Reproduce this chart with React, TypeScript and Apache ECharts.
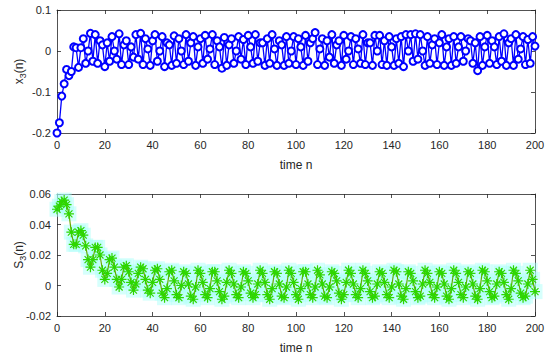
import React, { useEffect, useRef } from "react";
import * as echarts from "echarts";

// time index n = 0..200
const timeN: number[] = Array.from({ length: 201 }, (_, i) => i);

// x3(n) values
const x3Values: number[] = [
  -0.2, -0.175, -0.11, -0.08, -0.045, -0.06, -0.05, 0.01, 0.008, -0.04,
  0.008, 0.03, -0.03, 0.0, 0.043, -0.025, 0.04, -0.03, 0.025, 0.015,
  -0.038, 0.02, -0.025, 0.035, 0.0, -0.02, 0.042, -0.033, 0.015, 0.025,
  -0.033, 0.01, -0.015, 0.04, -0.02, 0.043, -0.033, 0.03, 0.005, -0.035,
  0.025, 0.04, -0.025, 0.0, 0.035, -0.038, 0.02, 0.015, -0.035, 0.037,
  -0.03, 0.03, 0.0, -0.033, 0.04, -0.025, 0.02, 0.035, -0.035, 0.01,
  0.03, -0.03, 0.038, -0.02, 0.005, 0.04, -0.033, 0.025, 0.01, -0.042,
  0.033, -0.035, 0.015, 0.03, -0.03, 0.0, 0.035, -0.02, 0.028, -0.033,
  0.038, 0.01, -0.03, 0.04, -0.025, 0.02, 0.02, -0.035, 0.03, -0.03,
  0.04, 0.005, -0.035, 0.025, 0.015, -0.035, 0.035, -0.03, 0.0, 0.035,
  -0.033, 0.03, 0.01, -0.035, 0.038, -0.025, 0.02, 0.03, 0.045, -0.033,
  0.005, 0.03, -0.035, 0.025, -0.015, 0.04, -0.03, 0.015, 0.025, -0.035,
  0.038, -0.02, 0.0, 0.035, -0.033, 0.03, 0.005, -0.03, 0.04, -0.033,
  0.02, 0.02, -0.035, 0.038, 0.0, 0.038, -0.033, 0.025, -0.035, 0.035,
  0.01, -0.035, 0.03, -0.03, 0.035, -0.038, 0.04, 0.0, 0.04, -0.025,
  0.042, -0.02, 0.04, 0.0, -0.035, 0.035, -0.03, 0.015, 0.03, -0.033,
  0.02, 0.04, -0.035, 0.01, 0.03, -0.035, 0.035, -0.03, 0.01, 0.035,
  -0.025, 0.0, 0.03, 0.025, -0.03, 0.02, -0.048, 0.035, -0.035, 0.01,
  0.038, -0.03, 0.025, 0.01, -0.033, 0.035, -0.025, 0.042, -0.035, 0.02,
  0.03, -0.035, 0.04, -0.02, 0.005, 0.035, -0.033, 0.028, -0.03, 0.035,
  0.012,
];

// S3(n) values
const s3Values: number[] = [
  0.05, 0.052, 0.055, 0.056, 0.053, 0.047, 0.035, 0.027, 0.027, 0.035,
  0.036, 0.033, 0.026, 0.017, 0.012, 0.017, 0.025, 0.025, 0.02, 0.01,
  0.004, 0.008, 0.017, 0.018, 0.012, 0.004, -0.001, 0.004, 0.012, 0.013,
  0.009, 0.002, -0.003, 0.001, 0.008, 0.012, 0.011, 0.004, -0.003, -0.005,
  0.002, 0.01, 0.011, 0.004, -0.005, -0.008, -0.002, 0.009, 0.01, 0.003,
  -0.006, -0.008, 0.0, 0.009, 0.008, 0.001, -0.007, -0.009, -0.001, 0.01,
  0.008, 0.002, -0.006, -0.008, -0.002, 0.009, 0.009, 0.003, -0.004, -0.009,
  -0.007, 0.002, 0.01, 0.008, 0.001, -0.006, -0.008, -0.001, 0.009, 0.008,
  0.003, -0.005, -0.008, -0.006, 0.001, 0.01, 0.008, 0.002, -0.006, -0.009,
  -0.002, 0.009, 0.008, 0.001, -0.007, -0.008, -0.001, 0.01, 0.008, 0.002,
  -0.006, -0.009, -0.002, 0.009, 0.009, 0.001, -0.006, -0.008, -0.001, 0.01,
  0.007, 0.001, -0.007, -0.008, -0.001, 0.009, 0.008, 0.003, -0.005, -0.009,
  -0.006, 0.002, 0.01, 0.008, 0.001, -0.006, -0.008, -0.002, 0.01, 0.008,
  0.003, -0.004, -0.008, -0.007, 0.001, 0.009, 0.008, 0.002, -0.006, -0.008,
  -0.001, 0.01, 0.009, 0.001, -0.007, -0.009, -0.002, 0.009, 0.008, 0.003,
  -0.004, -0.008, -0.007, 0.001, 0.01, 0.008, 0.002, -0.006, -0.008, -0.001,
  0.009, 0.008, 0.001, -0.007, -0.009, -0.002, 0.01, 0.008, 0.002, -0.006,
  -0.008, -0.001, 0.009, 0.008, 0.001, -0.007, -0.009, -0.002, 0.01, 0.009,
  0.003, -0.004, -0.008, -0.007, 0.001, 0.009, 0.008, 0.002, -0.006, -0.009,
  -0.002, 0.01, 0.008, 0.003, -0.005, -0.008, -0.007, 0.001, 0.01, 0.004,
  -0.004,
];

const xTicks = { min: 0, max: 200, interval: 20 };
const topY = { min: -0.2, max: 0.1, interval: 0.1 };
const botY = { min: -0.02, max: 0.06, interval: 0.02 };

const AX = "#262626";
const FONT = "Liberation Sans, Arial, sans-serif";
const ASTERISK =
  "path://M0,-5L0,5M-5,0L5,0M-3.5,-3.5L3.5,3.5M-3.5,3.5L3.5,-3.5";

export default function App() {
  const ref = useRef<HTMLDivElement>(null);
  useEffect(() => {
    if (!ref.current) return;
    const chart = echarts.init(ref.current, undefined, { renderer: "svg" });

    const axLine = { show: true, onZero: false, lineStyle: { color: AX, width: 0.8 } };
    const tick = { show: true, inside: true, length: 4, lineStyle: { color: AX, width: 0.8 } };
    const lbl = { color: AX, fontSize: 11, fontFamily: FONT };

    const xMain = (g: number) => ({
      type: "value",
      gridIndex: g,
      position: "bottom",
      ...xTicks,
      axisLine: axLine,
      axisTick: tick,
      axisLabel: { ...lbl, margin: 6 },
      splitLine: { show: false },
      name: "time n",
      nameLocation: "middle",
      nameGap: 26,
      nameMoveOverlap: false,
      nameTextStyle: { color: AX, fontSize: 12, fontFamily: FONT },
    });
    const xTop = (g: number) => ({
      type: "value",
      gridIndex: g,
      position: "top",
      ...xTicks,
      axisLine: axLine,
      axisTick: tick,
      axisLabel: { show: false },
      splitLine: { show: false },
    });
    const yMain = (g: number, r: any, nm: string) => ({
      type: "value",
      gridIndex: g,
      position: "left",
      ...r,
      axisLine: axLine,
      axisTick: tick,
      axisLabel: { ...lbl, margin: 6 },
      splitLine: { show: false },
      name: nm,
      nameLocation: "middle",
      nameGap: 30,
      nameMoveOverlap: false,
      nameTextStyle: {
        color: AX,
        fontFamily: FONT,
        rich: {
          a: { fontSize: 12, color: AX, fontFamily: FONT },
          s: { fontSize: 9, color: AX, fontFamily: FONT, padding: [8, 0, 0, 0] },
        },
      },
    });
    const yRight = (g: number, r: any) => ({
      type: "value",
      gridIndex: g,
      position: "right",
      ...r,
      axisLine: axLine,
      axisTick: tick,
      axisLabel: { show: false },
      splitLine: { show: false },
    });

    const topData = timeN.map((n, i) => [n, x3Values[i]]);
    const botData = timeN.map((n, i) => [n, s3Values[i]]);

    chart.setOption({
      animation: false,
      backgroundColor: "#ffffff",
      grid: [
        { left: 57, right: 15, top: 10, height: 123, outerBoundsMode: "none", containLabel: false },
        { left: 57, right: 15, top: 194, height: 122, outerBoundsMode: "none", containLabel: false },
      ],
      xAxis: [xMain(0), xTop(0), xMain(1), xTop(1)],
      yAxis: [
        yMain(0, topY, "{a|x}{s|3}{a|(n)}"),
        yRight(0, topY),
        yMain(1, botY, "{a|S}{s|3}{a|(n)}"),
        yRight(1, botY),
      ],
      series: [
        {
          type: "line",
          xAxisIndex: 0,
          yAxisIndex: 0,
          data: topData,
          symbol: "emptyCircle",
          symbolSize: 7,
          itemStyle: { color: "#0000ff", borderWidth: 1.3 },
          lineStyle: { color: "#0000ff", width: 1.3 },
          z: 3,
        },
        {
          type: "scatter",
          xAxisIndex: 2,
          yAxisIndex: 2,
          data: botData,
          symbol: "rect",
          symbolSize: 15,
          itemStyle: { color: "rgba(170,255,248,0.6)" },
          z: 1,
        },
        {
          type: "line",
          xAxisIndex: 2,
          yAxisIndex: 2,
          data: botData,
          symbol: ASTERISK,
          symbolSize: 10,
          itemStyle: { color: "transparent", borderColor: "#2ed600", borderWidth: 1.2 },
          lineStyle: { color: "#6aa800", width: 1.2 },
          z: 3,
        },
      ],
    });
    return () => chart.dispose();
  }, []);
  return <div ref={ref} style={{ width: 550, height: 356, position: "absolute", left: 0, top: 0 }} />;
}
